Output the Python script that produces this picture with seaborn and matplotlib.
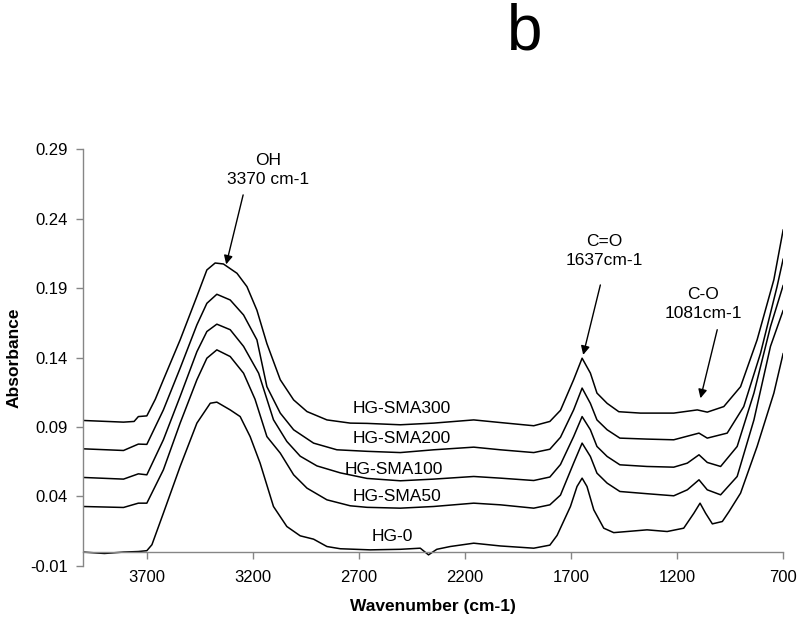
import numpy as np
import pandas as pd
import matplotlib
matplotlib.use("Agg")
import matplotlib.pyplot as plt
import seaborn as sns

sns.set_theme(style="white")
plt.rcParams['font.family'] = ['Liberation Sans', 'DejaVu Sans']
plt.rcParams['text.color'] = 'black'
plt.rcParams['axes.labelcolor'] = 'black'
plt.rcParams['xtick.color'] = 'black'
plt.rcParams['ytick.color'] = 'black'

# ---------------- data ----------------
wn_sma300 = [4000, 3810, 3760, 3740, 3700, 3660, 3622, 3543, 3464, 3417, 3378, 3339, 3275, 3228,
             3181, 3134, 3071, 3008, 2945, 2851, 2741, 2662, 2505, 2348, 2159, 2033, 1876, 1800,
             1750, 1688, 1648, 1609, 1578, 1530, 1475, 1373, 1216, 1105, 1058, 980, 901, 823,
             744, 700]
abs_sma300 = [0.0947, 0.0935, 0.0940, 0.0975, 0.0980, 0.1100, 0.1240, 0.1527, 0.1840, 0.2030,
              0.2080, 0.2073, 0.2006, 0.1910, 0.1740, 0.1500, 0.1240, 0.1095, 0.1011, 0.0951,
              0.0928, 0.0926, 0.0916, 0.0928, 0.0951, 0.0932, 0.0909, 0.0940, 0.1020, 0.1240,
              0.1395, 0.1288, 0.1144, 0.1070, 0.1010, 0.1000, 0.1000, 0.1023, 0.1007, 0.1047,
              0.1190, 0.1527, 0.1960, 0.2320]

wn_sma200 = [4000, 3810, 3740, 3700, 3622, 3543, 3464, 3417, 3370, 3307, 3244, 3181, 3134, 3071,
             3008, 2914, 2804, 2662, 2505, 2348, 2159, 2033, 1876, 1800, 1750, 1688, 1648, 1609,
             1578, 1530, 1470, 1342, 1216, 1097, 1058, 964, 886, 807, 729, 700]
abs_sma200 = [0.0743, 0.0731, 0.0777, 0.0775, 0.1023, 0.1323, 0.1635, 0.1790, 0.1855, 0.1814,
              0.1706, 0.1527, 0.1190, 0.1000, 0.0880, 0.0784, 0.0736, 0.0725, 0.0716, 0.0736,
              0.0755, 0.0736, 0.0716, 0.0740, 0.0826, 0.1023, 0.1180, 0.1070, 0.0951, 0.0880,
              0.0820, 0.0813, 0.0808, 0.0856, 0.0820, 0.0856, 0.1047, 0.1430, 0.1910, 0.2110]

wn_sma100 = [4000, 3810, 3740, 3700, 3622, 3543, 3464, 3417, 3370, 3307, 3244, 3173, 3103, 3040,
             2977, 2898, 2788, 2662, 2505, 2348, 2159, 2033, 1876, 1800, 1750, 1688, 1648, 1609,
             1578, 1530, 1470, 1342, 1216, 1152, 1097, 1058, 995, 917, 838, 760, 700]
abs_sma100 = [0.0537, 0.0525, 0.0563, 0.0556, 0.0808, 0.1120, 0.1442, 0.1587, 0.1640, 0.1600,
              0.1480, 0.1287, 0.0952, 0.0796, 0.0690, 0.0620, 0.0570, 0.0530, 0.0513, 0.0525,
              0.0544, 0.0532, 0.0515, 0.0540, 0.0630, 0.0831, 0.0975, 0.0880, 0.0760, 0.0688,
              0.0628, 0.0616, 0.0611, 0.0640, 0.0700, 0.0645, 0.0616, 0.0760, 0.1144, 0.1622,
              0.1920]

wn_sma50 = [4000, 3810, 3740, 3700, 3622, 3543, 3464, 3417, 3370, 3307, 3244, 3190, 3134, 3071,
            3008, 2945, 2851, 2741, 2662, 2505, 2348, 2159, 2033, 1876, 1800, 1750, 1688, 1648,
            1609, 1578, 1530, 1470, 1342, 1216, 1152, 1097, 1058, 995, 917, 838, 760, 700]
abs_sma50 = [0.0328, 0.0321, 0.0352, 0.0352, 0.0592, 0.0928, 0.1240, 0.1395, 0.1455, 0.1407,
             0.1287, 0.1100, 0.0831, 0.0712, 0.0556, 0.0460, 0.0376, 0.0333, 0.0322, 0.0316,
             0.0328, 0.0352, 0.0340, 0.0316, 0.0340, 0.0410, 0.0640, 0.0784, 0.0688, 0.0568,
             0.0496, 0.0436, 0.0420, 0.0405, 0.0448, 0.0520, 0.0448, 0.0412, 0.0544, 0.0951,
             0.1480, 0.1740]

wn_hg0 = [4000, 3900, 3810, 3740, 3700, 3676, 3622, 3543, 3464, 3401, 3370, 3307, 3260, 3213,
          3166, 3103, 3040, 2977, 2914, 2851, 2788, 2647, 2505, 2411, 2372, 2333, 2270, 2159,
          2033, 1876, 1800, 1766, 1703, 1672, 1648, 1625, 1593, 1546, 1499, 1436, 1342, 1247,
          1169, 1121, 1092, 1066, 1034, 987, 956, 901, 823, 744, 700]
abs_hg0 = [0.0000, -0.0010, 0.0000, 0.0004, 0.0010, 0.0053, 0.0280, 0.0616, 0.0928, 0.1071,
           0.1079, 0.1023, 0.0975, 0.0831, 0.0640, 0.0328, 0.0184, 0.0117, 0.0093, 0.0040,
           0.0024, 0.0016, 0.0020, 0.0028, -0.0020, 0.0020, 0.0040, 0.0064, 0.0044, 0.0028,
           0.0050, 0.0120, 0.0328, 0.0472, 0.0532, 0.0472, 0.0304, 0.0172, 0.0140, 0.0148,
           0.0160, 0.0148, 0.0172, 0.0280, 0.0352, 0.0280, 0.0203, 0.0220, 0.0290, 0.0424,
           0.0760, 0.1144, 0.1430]

sample_names = ["HG-SMA300", "HG-SMA200", "HG-SMA100", "HG-SMA50", "HG-0"]
x_ticks = [3700, 3200, 2700, 2200, 1700, 1200, 700]
y_ticks = [-0.01, 0.04, 0.09, 0.14, 0.19, 0.24, 0.29]
y_tick_labels = ["-0.01", "0.04", "0.09", "0.14", "0.19", "0.24", "0.29"]

# ---------------- build table ----------------
frames = []
for name, w, a in zip(sample_names,
                      [wn_sma300, wn_sma200, wn_sma100, wn_sma50, wn_hg0],
                      [abs_sma300, abs_sma200, abs_sma100, abs_sma50, abs_hg0]):
    frames.append(pd.DataFrame({"wn": w, "abs": a, "sample": name}))
df = pd.concat(frames, ignore_index=True)

fig = plt.figure(figsize=(8, 6.21), dpi=100)
ax = fig.add_axes([0.104, 0.0886, 0.875, 0.6714])

sns.lineplot(data=df, x="wn", y="abs", hue="sample", palette=["black"] * 5,
             estimator=None, legend=False, linewidth=1.1, ax=ax)

ax.set_xlim(4000, 700)
ax.set_ylim(-0.01, 0.29)
ax.set_xticks(x_ticks)
ax.set_xticklabels([str(t) for t in x_ticks])
ax.set_yticks(y_ticks)
ax.set_yticklabels(y_tick_labels)

spine_col = "#868686"
for s in ["top", "right"]:
    ax.spines[s].set_visible(False)
ax.spines["bottom"].set_position(("data", 0))
for s in ["left", "bottom"]:
    ax.spines[s].set_color(spine_col)
    ax.spines[s].set_linewidth(1.0)
ax.tick_params(axis="both", which="both", bottom=True, left=True, direction="out",
               length=5, width=1, color=spine_col, labelsize=12)
ax.tick_params(axis="x", pad=8)
ax.tick_params(axis="y", pad=6)

ax.set_xlabel("Wavenumber (cm-1)", fontsize=12.5, fontweight="bold", va="center")
ax.xaxis.set_label_coords(0.5, -0.098)
ax.set_ylabel("Absorbance", fontsize=12.5, fontweight="bold", va="center", ha="center")
ax.yaxis.set_label_coords(-0.0986, 0.499)

# curve labels
label_pos = {"HG-SMA300": (2498, 0.1036), "HG-SMA200": (2498, 0.0820),
             "HG-SMA100": (2537, 0.0592), "HG-SMA50": (2521, 0.0400),
             "HG-0": (2544, 0.0112)}
for name, (lx, ly) in label_pos.items():
    ax.text(lx, ly, name, ha="center", va="center", fontsize=12.5)

arrow = dict(arrowstyle="-|>", color="black", lw=1, mutation_scale=13, shrinkA=0, shrinkB=0)
ax.annotate("", xy=(3326, 0.207), xytext=(3246, 0.257), arrowprops=arrow)
ax.text(3128, 0.275, "OH\n3370 cm-1", ha="center", va="center", ma="center", fontsize=12.5,
        linespacing=1.3)
ax.annotate("", xy=(1643, 0.1419), xytext=(1562, 0.1922), arrowprops=arrow)
ax.text(1543, 0.2166, "C=O\n1637cm-1", ha="center", va="center", ma="center", fontsize=12.5,
        linespacing=1.3)
ax.annotate("", xy=(1090, 0.1107), xytext=(1011, 0.160), arrowprops=arrow)
ax.text(1076, 0.1784, "C-O\n1081cm-1", ha="center", va="center", ma="center", fontsize=12.5,
        linespacing=1.3)

fig.text(0.656, 0.921, "b", fontsize=46, ha="center", va="baseline")

fig.savefig("out.png", dpi=100)
